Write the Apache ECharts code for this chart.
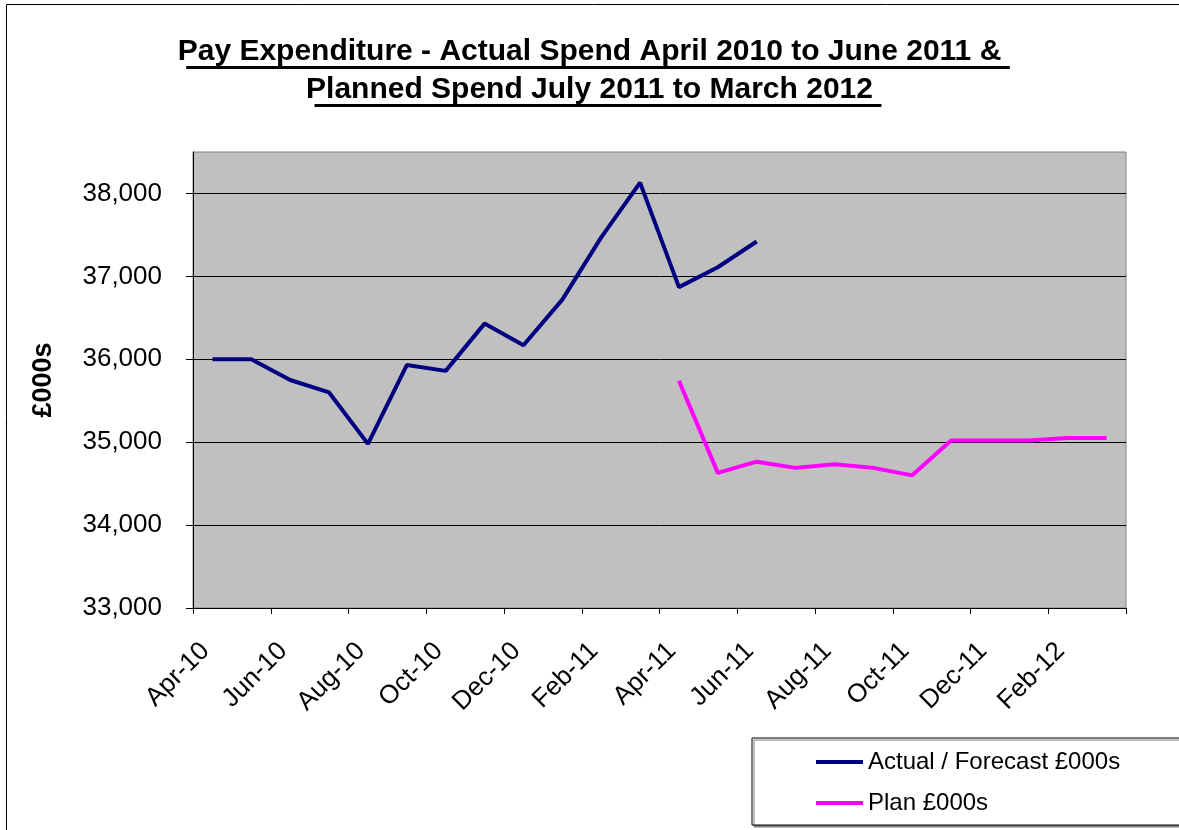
<!DOCTYPE html>
<html>
<head>
<meta charset="utf-8">
<title>Pay Expenditure</title>
<script src="https://cdn.jsdelivr.net/npm/echarts@6/dist/echarts.min.js"></script>
<style>
    html, body { margin: 0; padding: 0; background: #ffffff; }
    #chart { width: 1179px; height: 830px; }
</style>
</head>
<body>
<div id="chart"></div>
<script>
    var months = ['Apr-10', 'May-10', 'Jun-10', 'Jul-10', 'Aug-10', 'Sep-10', 'Oct-10', 'Nov-10',
        'Dec-10', 'Jan-11', 'Feb-11', 'Mar-11', 'Apr-11', 'May-11', 'Jun-11', 'Jul-11',
        'Aug-11', 'Sep-11', 'Oct-11', 'Nov-11', 'Dec-11', 'Jan-12', 'Feb-12', 'Mar-12'];
    // Apr-10 .. Jun-11
    var actualSpend = [36000, 36000, 35750, 35600, 34980, 35930, 35860, 36430,
        36170, 36720, 37470, 38130, 36870, 37110, 37420];
    // Apr-11 .. Mar-12
    var planSpend = [35740, 34630, 34765, 34690, 34735, 34690, 34600, 35020,
        35020, 35020, 35050, 35050];
    var planStart = 12;
    var yTicks = [33000, 34000, 35000, 36000, 37000, 38000];
    var titleLines = ['Pay Expenditure - Actual Spend April 2010 to June 2011 &',
        'Planned Spend July 2011 to March 2012'];

    var FONT = '"Liberation Sans", Arial, sans-serif';

    var actualData = months.map(function (m, i) {
        return i < actualSpend.length ? actualSpend[i] : null;
    });
    var planData = months.map(function (m, i) {
        return i >= planStart ? planSpend[i - planStart] : null;
    });

    // underline widths for the title lines
    var ctx = document.createElement('canvas').getContext('2d');
    ctx.font = 'bold 30px ' + FONT;
    var w1 = ctx.measureText(titleLines[0]).width;
    var w2 = ctx.measureText(titleLines[1]).width;
    var cx = 598;

    var myChart = echarts.init(document.getElementById('chart'), null, {renderer: 'canvas'});
    var option = {
        animation: false,
        title: {
            text: titleLines.join('\n'),
            left: 'center',
            top: 33,
            padding: [0, 0, 0, 17],
            textStyle: {
                fontFamily: FONT,
                fontSize: 30,
                fontWeight: 'bold',
                color: '#000000',
                lineHeight: 38
            }
        },
        graphic: [
            {
                type: 'rect', silent: true, z: -10,
                shape: {x: 6.5, y: 4.5, width: 1300, height: 1000},
                style: {fill: 'none', stroke: '#000000', lineWidth: 1}
            },
            {
                type: 'rect', silent: true,
                shape: {x: cx - w1 / 2, y: 66, width: w1, height: 3},
                style: {fill: '#000000'}
            },
            {
                type: 'rect', silent: true,
                shape: {x: cx - w2 / 2, y: 104, width: w2, height: 3},
                style: {fill: '#000000'}
            }
        ],
        grid: {
            left: 193,
            right: 53,
            top: 152,
            bottom: 222,
            show: true,
            backgroundColor: '#C0C0C0',
            borderColor: '#808080',
            borderWidth: 1
        },
        legend: {
            orient: 'vertical',
            left: 752,
            top: 738,
            padding: [12, 100, 10, 64],
            itemGap: 17,
            itemWidth: 47,
            itemHeight: 4,
            icon: 'rect',
            backgroundColor: '#ffffff',
            borderColor: '#000000',
            borderWidth: 1,
            borderRadius: 0,
            shadowColor: '#808080',
            shadowOffsetX: 2,
            shadowOffsetY: 2,
            shadowBlur: 0,
            textStyle: {fontFamily: FONT, fontSize: 24, color: '#000000'},
            data: ['Actual / Forecast £000s', 'Plan £000s']
        },
        xAxis: {
            type: 'category',
            data: months,
            boundaryGap: true,
            axisLine: {lineStyle: {color: '#000000', width: 1}},
            axisTick: {show: true, interval: 1, length: 6, lineStyle: {color: '#000000'}},
            axisLabel: {
                interval: 1,
                rotate: 45,
                margin: 32,
                padding: [0, 10, 0, 0],
                fontFamily: FONT,
                fontSize: 26,
                color: '#000000'
            },
            splitLine: {show: false}
        },
        yAxis: {
            type: 'value',
            min: 33000,
            max: 38500,
            interval: 1000,
            name: '£000s',
            nameLocation: 'middle',
            nameGap: 136,
            nameTextStyle: {fontFamily: FONT, fontSize: 27, fontWeight: 'bold', color: '#000000'},
            axisLine: {show: true, lineStyle: {color: '#000000', width: 1}},
            axisTick: {show: true, length: 7, lineStyle: {color: '#000000'}, customValues: yTicks},
            axisLabel: {
                margin: 31,
                fontFamily: FONT,
                fontSize: 26,
                color: '#000000',
                customValues: yTicks,
                formatter: function (v) {
                    return v > 38000 ? '' : echarts.format.addCommas(v);
                }
            },
            splitLine: {
                show: true,
                lineStyle: {
                    color: ['#000000', '#000000', '#000000', '#000000', '#000000', '#000000', '#808080'],
                    width: 1
                }
            }
        },
        series: [
            {
                name: 'Actual / Forecast £000s',
                type: 'line',
                data: actualData,
                symbol: 'none',
                color: '#000080',
                lineStyle: {color: '#000080', width: 4}
            },
            {
                name: 'Plan £000s',
                type: 'line',
                data: planData,
                symbol: 'none',
                color: '#FF00FF',
                lineStyle: {color: '#FF00FF', width: 4}
            }
        ]
    };
    myChart.setOption(option);
</script>
</body>
</html>
